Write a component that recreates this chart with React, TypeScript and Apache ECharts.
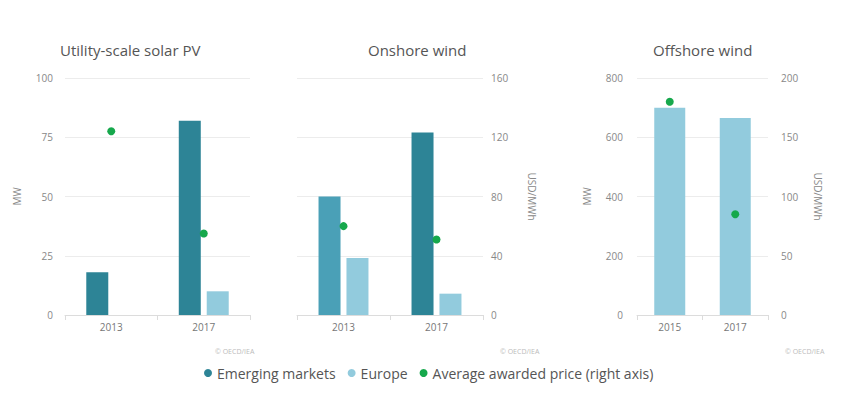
import React, { useEffect, useRef } from "react";
import * as echarts from "echarts";

const solarYears = ["2013", "2017"];
const solarEmerging = [18, 82];
const solarEurope: (number | null)[] = [null, 10];
const solarPrice = [124, 55];

const onshoreYears = ["2013", "2017"];
const onshoreEmerging = [50, 77];
const onshoreEurope = [24, 9];
const onshorePrice = [60, 51];

const offshoreYears = ["2015", "2017"];
const offshoreEurope = [700, 665];
const offshorePrice = [180, 85];

const titles = ["Utility-scale solar PV", "Onshore wind", "Offshore wind"];
const credit = "© OECD/IEA";
const seriesNames = ["Emerging markets", "Europe", "Average awarded price (right axis)"];

const C_EM = "#2d8496";
const C_EM_LIGHT = "#4aa0b7";
const C_EU = "#92cbdd";
const C_PRICE = "#16a84c";
const FONT = "Open Sans";

export default function App() {
  const ref = useRef<HTMLDivElement>(null);
  useEffect(() => {
    if (!ref.current) return;
    const chart = echarts.init(ref.current, null, { renderer: "svg" });
    const axisLabel = { color: "#888", fontSize: 10, fontFamily: FONT };
    const nameStyle = { color: "#888", fontSize: 10, fontFamily: FONT };
    const splitLine = { show: true, lineStyle: { color: "#ececec", width: 1 } };
    const xAxisBase = {
      type: "category",
      axisLine: { show: true, lineStyle: { color: "#dcdcdc" } },
      axisTick: { show: true, length: 5, lineStyle: { color: "#dcdcdc" } },
      axisLabel: { ...axisLabel, margin: 7, color: "#777" },
    };
    const priceStyle = { color: C_PRICE, opacity: 1 };
    const option: any = {
      animation: false,
      backgroundColor: "#ffffff",
      textStyle: { fontFamily: FONT },
      grid: [
        { left: 65, top: 78, width: 185, height: 237 },
        { left: 297, top: 78, width: 186, height: 237 },
        { left: 637, top: 78, width: 131, height: 237 },
      ],
      xAxis: [
        { ...xAxisBase, gridIndex: 0, data: solarYears },
        { ...xAxisBase, gridIndex: 1, data: onshoreYears },
        { ...xAxisBase, gridIndex: 2, data: offshoreYears },
      ],
      yAxis: [
        {
          type: "value", gridIndex: 0, position: "left", min: 0, max: 100, interval: 25,
          axisLabel: { ...axisLabel, margin: 12 }, splitLine, axisLine: { show: false }, axisTick: { show: false },
          name: "MW", nameLocation: "middle", nameGap: 43, nameRotate: 90, nameTextStyle: nameStyle,
        },
        {
          type: "value", gridIndex: 0, position: "right", min: 0, max: 160, interval: 40, show: false,
        },
        {
          type: "value", gridIndex: 1, position: "left", min: 0, max: 100, interval: 25, show: false,
        },
        {
          type: "value", gridIndex: 1, position: "right", min: 0, max: 160, interval: 40,
          axisLabel: { ...axisLabel, margin: 8 }, splitLine, axisLine: { show: false }, axisTick: { show: false },
          name: "USD/MWh", nameLocation: "middle", nameGap: 44, nameRotate: -90, nameTextStyle: nameStyle,
        },
        {
          type: "value", gridIndex: 2, position: "left", min: 0, max: 800, interval: 200,
          axisLabel: { ...axisLabel, margin: 14 }, splitLine, axisLine: { show: false }, axisTick: { show: false },
          name: "MW", nameLocation: "middle", nameGap: 45, nameRotate: 90, nameTextStyle: nameStyle,
        },
        {
          type: "value", gridIndex: 2, position: "right", min: 0, max: 200, interval: 50,
          axisLabel: { ...axisLabel, margin: 13 }, splitLine: { show: false }, axisLine: { show: false }, axisTick: { show: false },
          name: "USD/MWh", nameLocation: "middle", nameGap: 45, nameRotate: -90, nameTextStyle: nameStyle,
        },
      ],
      legend: {
        left: 199,
        top: 361,
        itemWidth: 8,
        itemHeight: 8,
        itemGap: 12,
        icon: "circle",
        textStyle: { color: "#555", fontSize: 14, fontFamily: FONT },
        data: seriesNames,
      },
      series: [
        {
          name: seriesNames[0], type: "bar", xAxisIndex: 0, yAxisIndex: 0, barWidth: 22, barGap: "27%",
          itemStyle: { color: C_EM }, data: solarEmerging,
        },
        {
          name: seriesNames[1], type: "bar", xAxisIndex: 0, yAxisIndex: 0, barWidth: 22, barGap: "27%",
          itemStyle: { color: C_EU }, data: solarEurope,
        },
        {
          name: seriesNames[2], type: "scatter", xAxisIndex: 0, yAxisIndex: 1, symbolSize: 8,
          itemStyle: priceStyle, data: solarPrice, z: 5,
        },
        {
          name: seriesNames[0], type: "bar", xAxisIndex: 1, yAxisIndex: 2, barWidth: 22, barGap: "27%",
          itemStyle: { color: C_EM },
          data: onshoreEmerging.map((v, i) => (i === 0 ? { value: v, itemStyle: { color: C_EM_LIGHT } } : v)),
        },
        {
          name: seriesNames[1], type: "bar", xAxisIndex: 1, yAxisIndex: 2, barWidth: 22, barGap: "27%",
          itemStyle: { color: C_EU }, data: onshoreEurope,
        },
        {
          name: seriesNames[2], type: "scatter", xAxisIndex: 1, yAxisIndex: 3, symbolSize: 8,
          itemStyle: priceStyle, data: onshorePrice, z: 5,
        },
        {
          name: seriesNames[1], type: "bar", xAxisIndex: 2, yAxisIndex: 4, barWidth: 31,
          itemStyle: { color: C_EU }, data: offshoreEurope,
        },
        {
          name: seriesNames[2], type: "scatter", xAxisIndex: 2, yAxisIndex: 5, symbolSize: 8,
          itemStyle: priceStyle, data: offshorePrice, z: 5,
        },
      ],
      graphic: [
        { type: "text", left: 60, top: 42, style: { text: titles[0], fill: "#555", font: `15px "${FONT}"` } },
        { type: "text", left: 368, top: 42, style: { text: titles[1], fill: "#555", font: `15px "${FONT}"` } },
        { type: "text", left: 653, top: 42, style: { text: titles[2], fill: "#555", font: `15px "${FONT}"` } },
        { type: "text", left: 215, top: 348, style: { text: credit, fill: "#bbb", font: `7px "${FONT}"` } },
        { type: "text", left: 500, top: 348, style: { text: credit, fill: "#bbb", font: `7px "${FONT}"` } },
        { type: "text", left: 785, top: 348, style: { text: credit, fill: "#bbb", font: `7px "${FONT}"` } },
      ],
    };
    chart.setOption(option);
    return () => chart.dispose();
  }, []);
  return (
    <div
      ref={ref}
      style={{ position: "absolute", left: 0, top: 0, width: 845, height: 395 }}
    />
  );
}
